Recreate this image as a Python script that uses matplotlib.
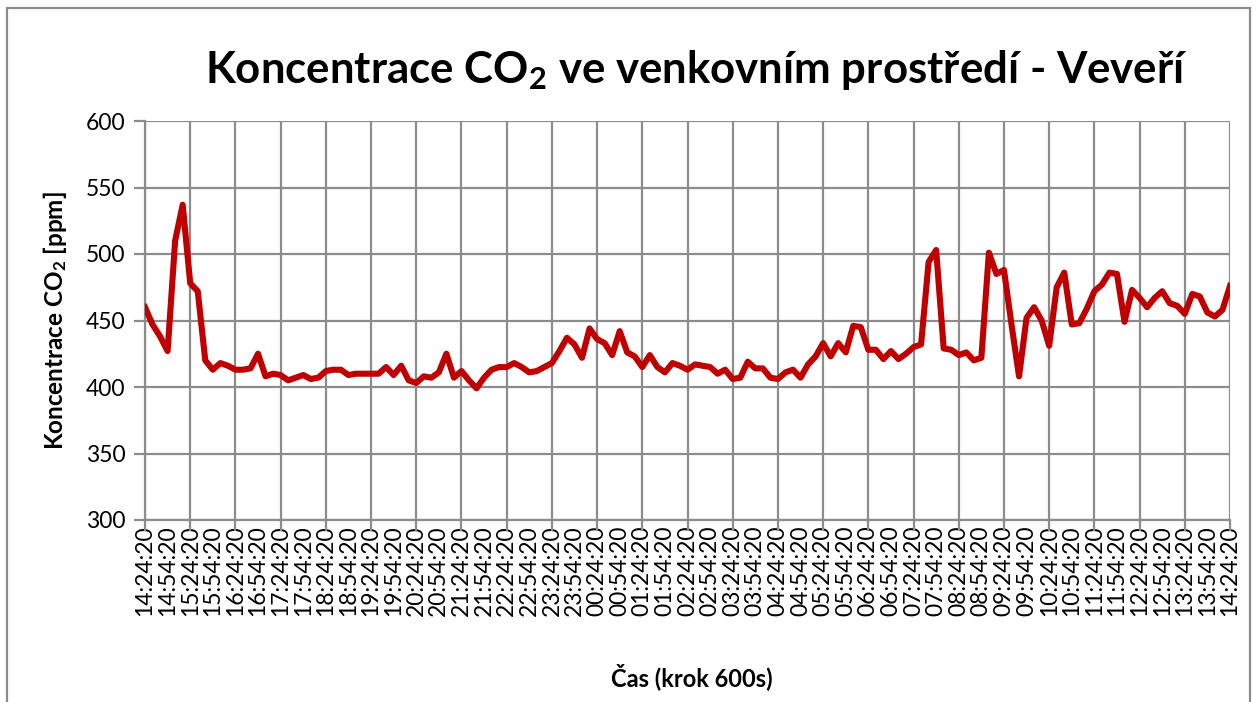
import matplotlib
matplotlib.use("Agg")
import matplotlib.pyplot as plt
from matplotlib.ticker import FixedLocator, MultipleLocator
from matplotlib.patches import Rectangle
from datetime import datetime, timedelta

# CO2 readings, one every 600 s, from 14:24:20 to 14:24:20 the next day
co2_ppm = [
    460, 447, 438, 427, 510, 537, 478, 472, 420, 413,
    418, 416, 413, 413, 414, 425, 408, 410, 409, 405,
    407, 409, 406, 407, 412, 413, 413, 409, 410, 410,
    410, 410, 415, 409, 416, 405, 403, 408, 407, 411,
    425, 407, 412, 405, 399, 407, 413, 415, 415, 418,
    415, 411, 412, 415, 418, 427, 437, 432, 422, 444,
    436, 433, 424, 442, 426, 423, 415, 424, 415, 411,
    418, 416, 413, 417, 416, 415, 410, 413, 406, 407,
    419, 414, 414, 407, 406, 411, 413, 407, 417, 423,
    433, 423, 433, 426, 446, 445, 428, 428, 421, 427,
    421, 425, 430, 432, 494, 503, 429, 428, 424, 426,
    420, 422, 501, 485, 488, 447, 408, 452, 460, 450,
    431, 475, 486, 447, 448, 459, 472, 477, 486, 485,
    449, 473, 467, 460, 467, 472, 463, 461, 455, 470,
    468, 456, 453, 458, 476,
]

start = datetime(2000, 1, 1, 14, 24, 20)
label_step = 3   # one label every 30 min
grid_step = 6    # one grid line every hour
time_labels = [(start + timedelta(seconds=600 * i)).strftime("%H:%M:%S")
               for i in range(0, len(co2_ppm), label_step)]

y_ticks = [300, 350, 400, 450, 500, 550, 600]

plt.rcParams['font.family'] = ['Lato', 'DejaVu Sans']
plt.rcParams['mathtext.default'] = 'regular'

grid_color = '#8c8c8c'

fig = plt.figure(figsize=(12.57, 7.02), dpi=100)
ax = fig.add_axes([145 / 1257, 1 - 520 / 702, 1085 / 1257, 399 / 702])

x = list(range(len(co2_ppm)))
ax.plot(x, co2_ppm, color='#C00000', linewidth=4.4, solid_joinstyle='round', zorder=3)

ax.set_xlim(0, len(co2_ppm) - 1)
ax.set_ylim(300, 600)
ax.set_yticks(y_ticks)
ax.set_yticklabels([str(v) for v in y_ticks], fontsize=16.5)

ax.xaxis.set_major_locator(FixedLocator(list(range(0, len(co2_ppm), label_step))))
ax.set_xticklabels(time_labels, rotation=90, fontsize=16.5)
# hourly grid lines sit on top of every other label position
ax.xaxis.remove_overlapping_locs = False
ax.xaxis.set_minor_locator(MultipleLocator(grid_step))

ax.grid(True, axis='y', color=grid_color, linewidth=1.6)
ax.grid(True, axis='x', which='minor', color=grid_color, linewidth=1.6)
ax.tick_params(axis='y', length=8, width=1.6, color=grid_color, pad=6)
ax.tick_params(axis='x', which='major', length=0, pad=4)
ax.tick_params(axis='x', which='minor', length=8, width=1.6, color=grid_color)

for side in ['top', 'right']:
    ax.spines[side].set_visible(False)
for side in ['left', 'bottom']:
    ax.spines[side].set_color(grid_color)
    ax.spines[side].set_linewidth(1.6)

ax.set_ylabel('Koncentrace CO$_2$ [ppm]', fontsize=17.5, fontweight='bold', labelpad=12)
fig.text(692 / 1257, 1 - 677 / 702, 'Čas (krok 600s)', fontsize=17, fontweight='bold',
         ha='center', va='center')
fig.text(696 / 1257, 1 - 70 / 702, 'Koncentrace CO$_2$ ve venkovním prostředí - Veveří',
         fontsize=31.5, fontweight='bold', ha='center', va='center')

# outer chart border
fig.add_artist(Rectangle((7 / 1257, -0.05), 1243 / 1257, 1.05 - 8 / 702,
                         transform=fig.transFigure, fill=False,
                         edgecolor=grid_color, linewidth=1.6))

fig.savefig('out.png', dpi=100)
